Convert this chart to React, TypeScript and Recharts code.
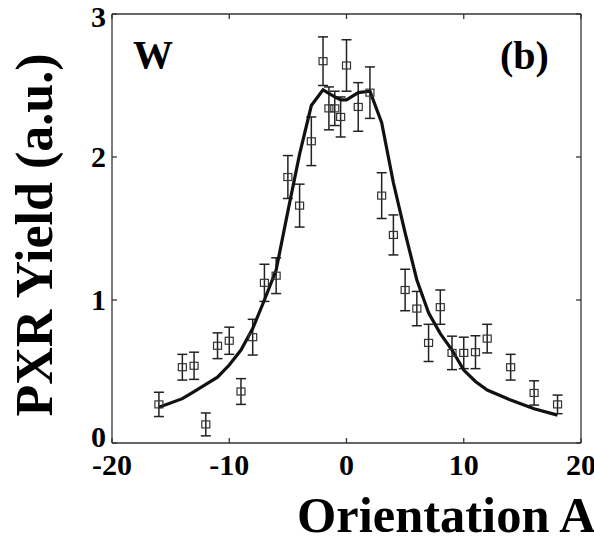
import React from "react";
import { ComposedChart, Line, Scatter, XAxis, YAxis, ErrorBar } from "recharts";

const angles = [-16, -14, -13, -12, -11, -10, -9, -8, -7, -6, -5, -4, -3, -2, -1.5, -1, -0.5, 0, 1, 2, 3, 4, 5, 6, 7, 8, 9, 10, 11, 12, 14, 16, 18];
const yields = [0.27, 0.53, 0.54, 0.13, 0.68, 0.715, 0.36, 0.74, 1.12, 1.17, 1.86, 1.66, 2.11, 2.67, 2.34, 2.34, 2.28, 2.64, 2.35, 2.45, 1.73, 1.455, 1.07, 0.94, 0.7, 0.95, 0.63, 0.63, 0.635, 0.73, 0.53, 0.35, 0.27];
const errors = [0.085, 0.09, 0.095, 0.08, 0.09, 0.095, 0.09, 0.125, 0.13, 0.125, 0.15, 0.15, 0.17, 0.17, 0.15, 0.12, 0.14, 0.18, 0.17, 0.18, 0.16, 0.14, 0.145, 0.12, 0.13, 0.12, 0.117, 0.11, 0.115, 0.1, 0.09, 0.085, 0.065];
const fitValues = [0.25, 0.31, 0.36, 0.41, 0.46, 0.545, 0.65, 0.8, 1.0, 1.21, 1.62, 2.02, 2.36, 2.47, 2.445, 2.42, 2.4, 2.4, 2.45, 2.46, 2.24, 1.82, 1.47, 1.14, 0.91, 0.765, 0.65, 0.51, 0.43, 0.37, 0.3, 0.24, 0.195];

const xTicks = [-20, -10, 0, 10, 20];
const yTicks = [0, 1, 2, 3];
const xLabel = "Orientation Angle (mrad)";
const yLabel = "PXR Yield (a.u.)";
const materialLabel = "W";
const panelLabel = "(b)";

const data = angles.map((a, i) => ({ x: a, y: yields[i], err: errors[i], fit: fitValues[i] }));

const FONT = "'Liberation Serif', 'Times New Roman', serif";

const XTick = (props: any) => {
  const { x, y, payload } = props;
  return (
    <text x={x} y={y + 35} textAnchor="middle" fontFamily={FONT} fontWeight="bold" fontSize={30} fill="#000">
      {String(payload.value)}
    </text>
  );
};

const YTick = (props: any) => {
  const { x, y, payload } = props;
  const v = payload.value;
  const adj = v === 0 ? -6 : v === 3 ? 3 : 0;
  return (
    <text x={x} y={y + 10 + adj} textAnchor="end" fontFamily={FONT} fontWeight="bold" fontSize={30} fill="#000">
      {String(v)}
    </text>
  );
};

const SquareShape = (props: any) => {
  const { cx, cy } = props;
  if (cx == null || cy == null) return null;
  return <rect x={cx - 4} y={cy - 3.5} width={8} height={7} fill="none" stroke="#333" strokeWidth={1.2} />;
};

const axisStroke = { stroke: "#333", strokeWidth: 1.3 };

export default function App() {
  return (
    <div style={{ position: "relative", width: 594, height: 545, background: "#fff", overflow: "hidden" }}>
      <style>{`body{margin:0}`}</style>
      <ComposedChart width={594} height={545} data={data} margin={{ top: 13, right: 12, bottom: 42, left: 0 }}>
        <XAxis
          dataKey="x"
          type="number"
          domain={[-20, 20]}
          ticks={xTicks}
          allowDataOverflow
          height={60}
          tickSize={-5}
          tickMargin={2}
          axisLine={axisStroke}
          tickLine={axisStroke}
          tick={<XTick />}
          interval={0}
        />
        <XAxis
          xAxisId="top"
          orientation="top"
          dataKey="x"
          type="number"
          domain={[-20, 20]}
          ticks={xTicks}
          allowDataOverflow
          height={1}
          tickSize={-5}
          axisLine={axisStroke}
          tickLine={axisStroke}
          tickFormatter={() => ""}
          interval={0}
        />
        <YAxis
          type="number"
          domain={[0, 3]}
          ticks={yTicks}
          allowDataOverflow
          width={112}
          tickSize={-5}
          tickMargin={11}
          axisLine={axisStroke}
          tickLine={axisStroke}
          tick={<YTick />}
          interval={0}
        />
        <YAxis
          yAxisId="right"
          orientation="right"
          type="number"
          domain={[0, 3]}
          ticks={yTicks}
          allowDataOverflow
          width={1}
          tickSize={-5}
          axisLine={axisStroke}
          tickLine={axisStroke}
          tickFormatter={() => ""}
          interval={0}
        />
        <Scatter dataKey="y" shape={<SquareShape />} isAnimationActive={false}>
          <ErrorBar dataKey="err" direction="y" width={5} stroke="#222" strokeWidth={1.5} isAnimationActive={false} />
        </Scatter>
        <Line
          dataKey="fit"
          type="linear"
          stroke="#111"
          strokeWidth={3.2}
          dot={false}
          activeDot={false}
          isAnimationActive={false}
        />
      </ComposedChart>
      <svg width={594} height={545} style={{ position: "absolute", left: 0, top: 0, pointerEvents: "none" }}>
        <text x={133} y={68} fontFamily={FONT} fontWeight="bold" fontSize={40} fill="#000">
          {materialLabel}
        </text>
        <text x={500} y={69} fontFamily={FONT} fontWeight="bold" fontSize={40} fill="#000">
          {panelLabel}
        </text>
        <text
          x={52}
          y={235}
          transform="rotate(-90 52 235)"
          textAnchor="middle"
          fontFamily={FONT}
          fontWeight="bold"
          fontSize={52}
          fill="#000"
        >
          {yLabel}
        </text>
        <text x={297} y={532} fontFamily={FONT} fontWeight="bold" fontSize={50.5} fill="#000">
          {xLabel}
        </text>
      </svg>
    </div>
  );
}
